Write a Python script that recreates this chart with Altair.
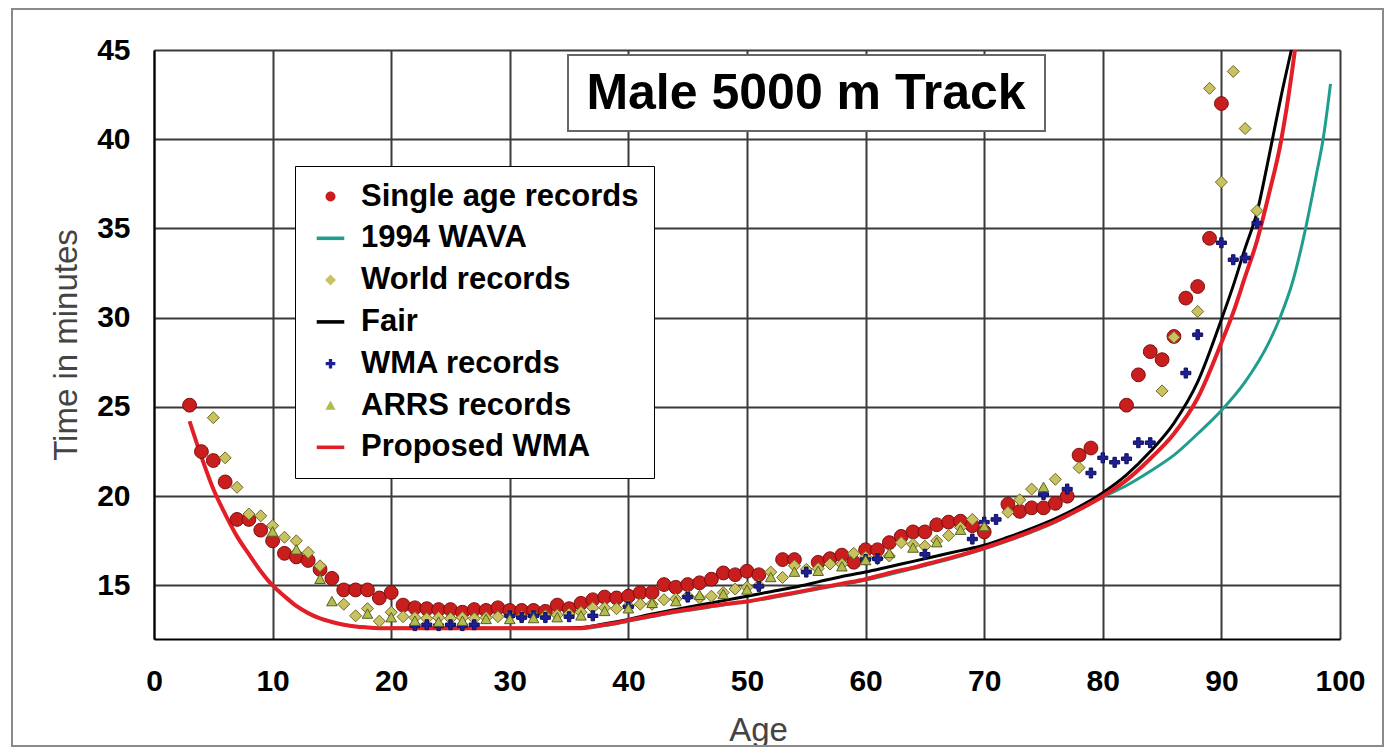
import altair as alt
import pandas as pd

# ---------------- data ----------------
series_order = ["Single age records", "1994 WAVA", "World records", "Fair",
                "WMA records", "ARRS records", "Proposed WMA"]

single_age = [3, 4, 5, 6, 7, 8, 9, 10, 11, 12, 13, 14, 15, 16, 17, 18, 19, 20, 21, 22,
              23, 24, 25, 26, 27, 28, 29, 30, 31, 32, 33, 34, 35, 36, 37, 38, 39, 40, 41, 42,
              43, 44, 45, 46, 47, 48, 49, 50, 51, 53, 54, 56, 57, 58, 59, 60, 61, 62, 63, 64,
              65, 66, 67, 68, 69, 70, 72, 73, 74, 75, 76, 77, 78, 79, 82, 83, 84, 85, 86, 87,
              88, 89, 90]
single_time = [25.1, 22.5, 22.0, 20.8, 18.7, 18.7, 18.1, 17.5, 16.8, 16.6,
               16.4, 15.9, 15.4, 14.75, 14.75, 14.75, 14.3, 14.6, 13.9, 13.75,
               13.7, 13.65, 13.65, 13.5, 13.65, 13.6, 13.75, 13.6, 13.6, 13.6,
               13.55, 13.9, 13.7, 14.0, 14.2, 14.35, 14.3, 14.4, 14.6, 14.6,
               15.05, 14.9, 15.05, 15.15, 15.35, 15.7, 15.6, 15.8, 15.6,
               16.45, 16.45,
               16.3, 16.5, 16.7, 16.3, 17.0, 17.0, 17.4, 17.75, 18.0, 18.0, 18.4, 18.55, 18.6, 18.35, 18.0,
               19.55, 19.15, 19.35, 19.35, 19.6, 20.0, 22.3, 22.7,
               25.1, 26.8, 28.1, 27.65, 28.95, 31.1, 31.75, 34.45, 42.0]

world_age = [5, 6, 7, 8, 9, 10, 11, 12, 13, 14,
             16, 17, 18, 19, 20,
             21, 22, 23, 24, 25, 26, 27, 28, 29, 30,
             31, 32, 33, 34, 35, 36, 37, 38, 39, 40,
             41, 42, 43, 44, 45, 46, 47, 48, 49, 50,
             51, 52, 53, 54, 55, 56, 57, 58, 59, 60,
             61, 62, 63, 64, 65, 66, 67, 68, 69,
             72, 73, 74, 76, 78, 85, 86, 88, 89, 90, 91, 92, 93]
world_time = [24.4, 22.15, 20.5, 19.0, 18.9, 18.35, 17.7, 17.5, 16.85, 16.1,
              13.95, 13.3, 13.7, 13.0, 13.5,
              13.25, 13.2, 13.15, 13.2, 13.15, 13.2, 13.15, 13.2, 13.25, 13.3,
              13.25, 13.3, 13.3, 13.35, 13.4, 13.5, 13.75, 13.75, 13.7, 13.85,
              13.95, 13.95, 14.2, 14.25, 14.4, 14.3, 14.4, 14.6, 14.8, 14.9,
              15.0, 15.75, 15.45, 16.1, 15.9, 15.95, 16.2, 16.2, 16.8, 16.6,
              16.5, 16.65, 17.4, 17.3, 17.2, 17.5, 17.8, 18.25, 18.7,
              19.1, 19.8, 20.4, 20.95, 21.6, 25.9, 28.9, 30.35, 42.85, 37.6, 43.8, 40.6, 36.0]

wma_age = [22, 23, 24, 25, 26, 27, 30, 31, 32, 33, 35, 37, 40, 45, 51, 55, 60, 61, 65, 69,
           70, 71, 75, 77, 79, 80, 81, 82, 83, 84, 87, 88, 90, 91, 92, 93]
wma_time = [12.75, 12.8, 12.75, 12.8, 12.75, 12.8, 13.3, 13.2, 13.3, 13.2, 13.25, 13.3,
            13.8, 14.35, 14.95, 15.75, 16.45, 16.5, 16.75, 17.6,
            18.55, 18.7, 20.1, 20.4, 21.3, 22.15, 21.9, 22.1, 23.0, 23.0, 26.9, 29.05,
            34.2, 33.25, 33.35, 35.3]

arrs_age = [10, 12, 14, 15, 18, 20, 22, 24, 26, 28, 30, 32, 34, 36, 38, 40, 42, 44, 46, 48,
            50, 52, 54, 56, 58, 60, 62, 64, 66, 68, 70, 75]
arrs_time = [18.0, 17.0, 15.35, 14.1, 13.4, 13.2, 13.0, 12.95, 13.0, 13.1,
             13.1, 13.15, 13.2, 13.3, 13.55, 13.7, 14.0, 14.1, 14.45, 14.5,
             14.75, 15.45, 15.75, 15.8, 16.05, 16.4, 16.8, 17.1, 17.4, 18.1, 18.3, 20.5]

wava_age = [8, 9, 10, 11, 12, 13, 14, 15, 16, 17, 18, 20, 24, 28, 32, 36, 38, 40, 44, 48,
            52, 56, 60, 64, 68, 72, 76, 80, 82, 84, 86, 88, 90, 92, 94, 95, 96, 97, 98, 98.6, 99.2]
wava_time = [16.75, 15.8, 15.0, 14.4, 13.85, 13.45, 13.15, 12.95, 12.8, 12.7, 12.65, 12.6,
             12.6, 12.6, 12.6, 12.6, 12.75, 13.0, 13.5, 13.9, 14.3, 14.8, 15.3, 15.95, 16.65,
             17.5, 18.55, 19.95, 20.6, 21.4, 22.3, 23.5, 24.8, 26.4, 28.6, 30.1, 32.0, 34.7,
             38.0, 40.1, 43.1]

fair_age = [20, 24, 28, 32, 36, 38, 40, 42, 44, 46, 48, 50, 52, 54, 56, 58, 60, 62, 64, 66,
            68, 70, 72, 74, 76, 78, 80, 82, 84, 86, 88, 90, 91, 92, 93, 94, 95, 95.9]
fair_time = [12.6, 12.6, 12.6, 12.6, 12.65, 12.85, 13.1, 13.4, 13.65, 13.9, 14.15, 14.4,
             14.65, 14.9, 15.2, 15.5, 15.75, 16.05, 16.35, 16.65, 16.95, 17.25, 17.7, 18.2,
             18.75, 19.4, 20.2, 21.2, 22.5, 24.1, 26.4, 29.9, 31.8, 33.9, 35.9, 39.0, 42.3, 45.0]

prop_age = [3, 4, 5, 6, 7, 8, 9, 10, 11, 12, 13, 14, 15, 16, 17, 18, 20, 22, 24, 26, 28, 30,
            32, 34, 36, 37, 38, 39, 40, 42, 44, 46, 48, 50, 52, 54, 56, 58, 60, 62, 64, 66,
            68, 70, 72, 74, 76, 78, 80, 82, 84, 86, 88, 90, 91, 92, 93, 94, 95, 96, 96.2]
prop_time = [24.2, 22.2, 20.4, 19.0, 17.75, 16.75, 15.8, 15.0, 14.4, 13.85, 13.45, 13.15,
             12.95, 12.8, 12.7, 12.65, 12.6, 12.6, 12.6, 12.6, 12.6, 12.6, 12.6, 12.6, 12.6,
             12.7, 12.8, 12.9, 13.05, 13.3, 13.55, 13.75, 13.95, 14.1, 14.35, 14.6, 14.85,
             15.1, 15.35, 15.7, 16.0, 16.35, 16.7, 17.1, 17.55, 18.05, 18.6, 19.25, 20.0,
             20.9, 22.1, 23.5, 25.5, 28.6, 30.3, 32.3, 34.3, 36.9, 39.8, 44.0, 45.0]

x_ticks = [0, 10, 20, 30, 40, 50, 60, 70, 80, 90, 100]
y_ticks = [15, 20, 25, 30, 35, 40, 45]
chart_title = "Male 5000 m Track"

# ---------------- styling ----------------
FONT = "Liberation Sans"
LINE = "M-1,-0.13H1V0.13H-1Z"
CIRCLE = "M-0.36,0A0.36,0.36 0 1,0 0.36,0A0.36,0.36 0 1,0 -0.36,0Z"
DIAMOND = "M0,-0.4L0.4,0L0,0.4L-0.4,0Z"
CROSS = "M-0.12,-0.35H0.12V-0.12H0.35V0.12H0.12V0.35H-0.12V0.12H-0.35V-0.12H-0.12Z"
TRI = "M0,-0.36L0.37,0.3L-0.37,0.3Z"

series_colors = ["#c81e1e", "#1f9e8e", "#c9c262", "#000000", "#1e1e96", "#b2bb4e", "#e41e26"]
series_shapes = [CIRCLE, LINE, DIAMOND, LINE, CROSS, TRI, LINE]

color_scale = alt.Scale(domain=series_order, range=series_colors)
shape_scale = alt.Scale(domain=series_order, range=series_shapes)
x_scale = alt.Scale(domain=[0, 100], nice=False, zero=False)
y_scale = alt.Scale(domain=[12, 45], nice=False, zero=False)

legend = alt.Legend(
    title=None, orient="none", legendX=141, legendY=116,
    labelFont=FONT, labelFontSize=31, labelFontWeight="bold", labelColor="black",
    labelLimit=600, symbolSize=760, symbolStrokeWidth=0, symbolOpacity=1,
    rowPadding=9.8, padding=15, symbolOffset=5, labelOffset=15,
    fillColor="white", strokeColor="black",
)

x_axis = alt.Axis(
    values=x_ticks, title="Age", labelFont=FONT, labelFontSize=30, labelFontWeight="bold",
    labelColor="black", labelPadding=27, labelFlush=False, ticks=False, tickSize=0,
    grid=True, gridColor="#3a3a3a", gridWidth=2, domainColor="black", domainWidth=2,
    titleFont=FONT, titleFontSize=33, titleFontWeight="normal", titleColor="#444444",
    titlePadding=18, titleX=604,
)
y_axis = alt.Axis(
    values=y_ticks, title="Time in minutes", labelFont=FONT, labelFontSize=30,
    labelFontWeight="bold", labelColor="black", labelPadding=24, ticks=False, tickSize=0,
    grid=True, gridColor="#3a3a3a", gridWidth=2, domainColor="black", domainWidth=2,
    titleFont=FONT, titleFontSize=33, titleFontWeight="normal", titleColor="#444444",
    titlePadding=13,
)


def frame(name, ages, times):
    assert len(ages) == len(times), name
    return pd.DataFrame({"age": ages, "time": times, "series": name})


def line_layer(name, ages, times, color, width):
    return alt.Chart(frame(name, ages, times)).mark_line(
        color=color, strokeWidth=width, interpolate="monotone"
    ).encode(
        x=alt.X("age:Q", scale=x_scale, axis=x_axis),
        y=alt.Y("time:Q", scale=y_scale, axis=y_axis),
    )


def point_layer(name, ages, times, size, stroke):
    return alt.Chart(frame(name, ages, times)).mark_point(
        filled=True, opacity=1, size=size, stroke=stroke, strokeWidth=1
    ).encode(
        x=alt.X("age:Q", scale=x_scale, axis=x_axis),
        y=alt.Y("time:Q", scale=y_scale, axis=y_axis),
        color=alt.Color("series:N", scale=color_scale, legend=legend),
        shape=alt.Shape("series:N", scale=shape_scale, legend=legend),
    )


deco = pd.DataFrame({"label": [chart_title]})

outer = alt.Chart(deco).mark_rect(fill="transparent", stroke="#8a8a8a", strokeWidth=2).encode(
    x=alt.value(-142), x2=alt.value(1229), y=alt.value(-41), y2=alt.value(696)
)
title_box = alt.Chart(deco).mark_rect(fill="white", stroke="#666666", strokeWidth=2).encode(
    x=alt.value(414), x2=alt.value(891), y=alt.value(5), y2=alt.value(81)
)
title_text = alt.Chart(deco).mark_text(
    font=FONT, fontSize=50, fontWeight="bold", color="black", align="center", baseline="middle"
).encode(text="label:N", x=alt.value(652), y=alt.value(44))

chart = alt.layer(
    outer,
    line_layer("1994 WAVA", wava_age, wava_time, "#1f9e8e", 3),
    line_layer("Fair", fair_age, fair_time, "#000000", 3),
    line_layer("Proposed WMA", prop_age, prop_time, "#e41e26", 4),
    point_layer("Single age records", single_age, single_time, 1450, "#7a0a0a"),
    point_layer("World records", world_age, world_time, 900, "#6e6a20"),
    point_layer("WMA records", wma_age, wma_time, 816, "#10105a"),
    point_layer("ARRS records", arrs_age, arrs_time, 816, "#5a6020"),
    title_box,
    title_text,
).properties(
    width=1186, height=589,
    padding={"left": 146, "top": 42, "right": 47, "bottom": 108},
    autosize=alt.AutoSizeParams(type="none"),
).configure_view(
    stroke="black", strokeWidth=2
).configure(background="white")

chart.save("out.html", embed_options={"renderer": "svg", "actions": False})
